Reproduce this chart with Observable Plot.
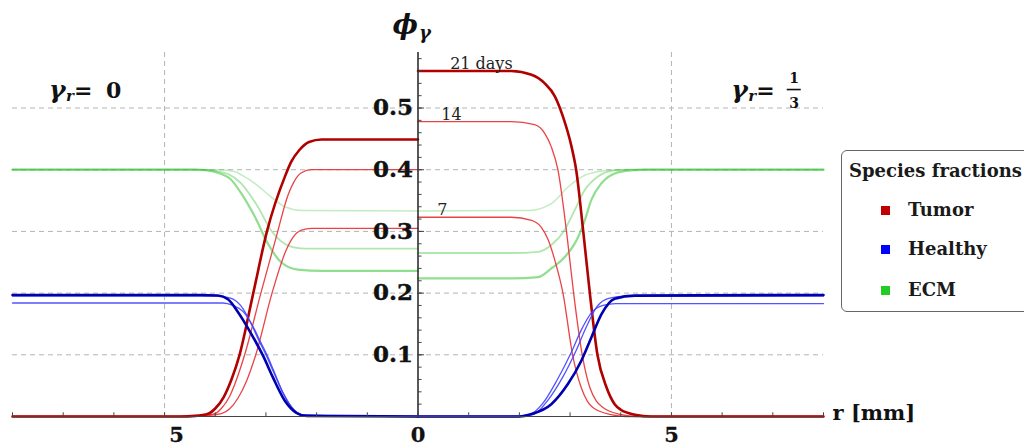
<!DOCTYPE html>
<html><head><meta charset="utf-8">
<script src="https://cdn.jsdelivr.net/npm/d3@7"></script>
<script src="https://cdn.jsdelivr.net/npm/@observablehq/plot@0.6"></script>
<style>
html,body{margin:0;padding:0;background:#fff;overflow:hidden;}
#wrap{position:relative;width:1024px;height:446px;}
#legend{position:absolute;left:841px;top:150px;width:215px;height:160px;border:1.5px solid #666;border-radius:6px;background:#fff;font-family:"DejaVu Serif",serif;font-weight:bold;color:#1a1a1a;}
#legend .t{position:absolute;left:7px;top:11px;font-size:18px;line-height:1;white-space:nowrap;}
#legend .it{position:absolute;left:66px;font-size:18px;line-height:1;white-space:nowrap;}
#legend .sw{position:absolute;left:39px;width:9px;height:9px;}
</style>
</head><body>
<div id="wrap"></div>
<script>
// ---- data: radius r [mm] and volume fraction phi ----
// left panel: gamma_r = 0  (drawn mirrored at negative x)
const tumorL21 = [[0,0.449],[1.9,0.449],[2.15,0.445],[2.34,0.432],[2.5,0.413],[2.62,0.39],[2.98,0.30],[3.25,0.20],[3.52,0.10],[3.68,0.06],[3.83,0.032],[4.0,0.013],[4.14,0.0045],[4.4,0.001],[4.7,0],[8,0]];
const tumorL14 = [[0,0.40],[2.1,0.40],[2.3,0.395],[2.45,0.38],[2.56,0.36],[2.8,0.29],[3.1,0.20],[3.42,0.10],[3.58,0.06],[3.72,0.032],[3.88,0.013],[4.01,0.0045],[4.3,0.001],[4.6,0],[8,0]];
const tumorL7  = [[0,0.305],[2.1,0.305],[2.3,0.302],[2.47,0.29],[2.6,0.27],[2.88,0.20],[3.2,0.10],[3.38,0.058],[3.55,0.03],[3.72,0.012],[3.88,0.0045],[4.2,0.001],[4.5,0],[8,0]];
const healthyL21 = [[0,0],[2.2,0.001],[2.4,0.006],[2.63,0.026],[2.86,0.063],[3.06,0.099],[3.29,0.134],[3.55,0.169],[3.75,0.19],[3.95,0.196],[4.3,0.197],[8,0.197]];
const healthyL14 = [[0,0],[2.25,0.002],[2.45,0.011],[2.65,0.036],[2.85,0.072],[3.0,0.10],[3.15,0.125],[3.3,0.152],[3.5,0.18],[3.7,0.192],[3.95,0.195],[8,0.195]];
const healthyL7  = [[0,0],[2.25,0.002],[2.45,0.011],[2.66,0.038],[2.85,0.075],[2.98,0.10],[3.1,0.12],[3.25,0.145],[3.45,0.17],[3.65,0.18],[3.85,0.184],[8,0.184]];
const ecmL21 = [[0,0.236],[1.9,0.236],[2.37,0.238],[2.7,0.25],[2.96,0.28],[3.22,0.324],[3.49,0.362],[3.7,0.385],[3.88,0.393],[4.15,0.399],[4.4,0.40],[8,0.40]];
const ecmL14 = [[0,0.272],[2.2,0.272],[2.45,0.274],[2.63,0.28],[2.9,0.302],[3.16,0.34],[3.49,0.378],[3.75,0.393],[4.1,0.399],[4.4,0.40],[8,0.40]];
const ecmL7  = [[0,0.333],[2.3,0.334],[2.63,0.34],[2.9,0.356],[3.22,0.378],[3.45,0.39],[3.62,0.397],[3.9,0.40],[8,0.40]];
// right panel: gamma_r = 1/3
const tumorR21 = [[0,0.56],[1.84,0.56],[2.24,0.554],[2.5,0.54],[2.7,0.519],[2.86,0.486],[3.03,0.437],[3.12,0.40],[3.26,0.30],[3.39,0.20],[3.54,0.10],[3.72,0.047],[3.88,0.02],[4.0,0.011],[4.28,0.003],[4.6,0],[8,0]];
const tumorR14 = [[0,0.478],[1.84,0.478],[2.3,0.473],[2.5,0.459],[2.63,0.437],[2.76,0.40],[2.93,0.30],[3.07,0.20],[3.24,0.10],[3.39,0.047],[3.52,0.025],[3.65,0.0146],[4.01,0.003],[4.3,0],[8,0]];
const tumorR7  = [[0,0.323],[1.84,0.323],[2.24,0.318],[2.43,0.307],[2.57,0.286],[2.70,0.253],[2.86,0.20],[3.05,0.10],[3.22,0.047],[3.34,0.025],[3.45,0.0146],[3.81,0.003],[4.1,0],[8,0]];
const healthyR21 = [[0,0],[2.0,0],[2.24,0.004],[2.63,0.02],[2.96,0.053],[3.22,0.09],[3.42,0.128],[3.62,0.166],[3.88,0.191],[4.28,0.196],[8,0.197]];
const healthyR14 = [[0,0],[2.0,0],[2.3,0.004],[2.55,0.025],[2.85,0.063],[3.12,0.107],[3.32,0.145],[3.52,0.177],[3.78,0.192],[4.1,0.195],[8,0.195]];
const healthyR7  = [[0,0],[1.9,0],[2.2,0.003],[2.45,0.02],[2.75,0.06],[3.03,0.105],[3.22,0.14],[3.42,0.168],[3.65,0.18],[3.9,0.183],[8,0.183]];
const ecmR21 = [[0,0.224],[1.84,0.224],[2.37,0.226],[2.63,0.24],[2.89,0.258],[3.16,0.291],[3.29,0.318],[3.42,0.351],[3.62,0.378],[3.88,0.394],[4.2,0.399],[4.5,0.40],[8,0.40]];
const ecmR14 = [[0,0.265],[1.84,0.265],[2.37,0.267],[2.63,0.278],[2.89,0.302],[3.09,0.334],[3.29,0.367],[3.55,0.389],[3.88,0.399],[4.2,0.40],[8,0.40]];
const ecmR7  = [[0,0.333],[2.2,0.334],[2.63,0.345],[2.96,0.372],[3.29,0.391],[3.68,0.3985],[4.0,0.40],[8,0.40]];

const species = ["Tumor", "Healthy", "ECM"];
const days = [7, 14, 21];
const xTickLabels = [-5, 0, 5];
const yTickLabels = [0.1, 0.2, 0.3, 0.4, 0.5];
const dayLabelText = ["7", "14", "21 days"];
const dayLabelR = [0.48, 0.66, 1.25];
const dayLabelPhi = [0.323, 0.478, 0.56];

// ---- layout & styles ----
const W = 1024, H = 446, ML = 12, MR = 201, MT = 52, MB = 30;
const XDOM = [-8, 8];
const pxPerMm = (W - ML - MR) / (XDOM[1] - XDOM[0]);
const FONT = "DejaVu Serif";
const style = {
  Tumor:   {21: ["#b00000", 2.6, 1], 14: ["#e8393c", 1.3, 0.95], 7: ["#e8393c", 1.3, 0.95]},
  Healthy: {21: ["#0000b0", 2.6, 1], 14: ["#4040ff", 1.3, 0.9], 7: ["#4040ff", 1.3, 0.9]},
  ECM:     {21: ["#36c236", 2.2, 0.55], 14: ["#36c236", 1.8, 0.4], 7: ["#36c236", 1.5, 0.3]}
};

const curves = [
  ["left","Tumor",21,tumorL21],["left","Tumor",14,tumorL14],["left","Tumor",7,tumorL7],
  ["left","Healthy",21,healthyL21],["left","Healthy",14,healthyL14],["left","Healthy",7,healthyL7],
  ["left","ECM",21,ecmL21],["left","ECM",14,ecmL14],["left","ECM",7,ecmL7],
  ["right","Tumor",21,tumorR21],["right","Tumor",14,tumorR14],["right","Tumor",7,tumorR7],
  ["right","Healthy",21,healthyR21],["right","Healthy",14,healthyR14],["right","Healthy",7,healthyR7],
  ["right","ECM",21,ecmR21],["right","ECM",14,ecmR14],["right","ECM",7,ecmR7]
];
const rows = curves.flatMap(([side, sp, day, pts]) =>
  pts.map(([r, v]) => ({side, species: sp, day, x: side === "left" ? -r : r, v}))
     .sort((a, b) => a.x - b.x));

const lineMarks = [];
for (const sp of ["ECM", "Tumor", "Healthy"]) {
  for (const day of [7, 14, 21]) {
    const [stroke, w, op] = style[sp][day];
    lineMarks.push(Plot.line(rows.filter(d => d.species === sp && d.day === day), {
      x: "x", y: "v", z: "side", stroke, strokeWidth: w, strokeOpacity: op,
      curve: "monotone-x"
    }));
  }
}

const grid = {stroke: "#b4b4b4", strokeDasharray: "5,4", strokeWidth: 1};
const yMinor = d3.range(0, 30).map(i => i / 50);
const xMinor = d3.range(-8, 9);
const bold = {fontFamily: FONT, fontWeight: "bold", fill: "#111"};

// gamma_r annotations (data-coordinate anchors)
const gLeft = {x: -7.28, y: 0.517};
const gRight = {x: 6.18, y: 0.517};
const fracBar = [{y: gRight.y, x1: gRight.x + 56 / pxPerMm, x2: gRight.x + 70 / pxPerMm}];
function gammaLabel(anchor, rhs) {
  const base = {x: () => anchor.x, y: () => anchor.y, textAnchor: "start", lineAnchor: "bottom", fill: "#111", fontFamily: FONT, fontWeight: "bold"};
  const m = [
    Plot.text(["γ"], {...base, text: d => d, fontSize: 25, fontStyle: "italic"}),
    Plot.text(["r"], {...base, text: d => d, fontSize: 15, fontStyle: "italic", dx: 17, dy: 3}),
    Plot.text(["="], {...base, text: d => d, fontSize: 22, dx: 25})
  ];
  return m.concat(rhs(base));
}

const plot = Plot.plot({
  width: W, height: H,
  marginLeft: ML, marginRight: MR, marginTop: MT, marginBottom: MB,
  x: {domain: XDOM, axis: null},
  y: {domain: [0, 0.59], axis: null},
  style: {fontFamily: FONT, background: "#fff"},
  marks: [
    Plot.ruleY(yTickLabels, grid),
    Plot.ruleX(xTickLabels.filter(d => d !== 0), grid),
    ...lineMarks,
    Plot.ruleY([0], {stroke: "#444", strokeWidth: 1.2}),
    Plot.ruleX([0], {stroke: "#222", strokeWidth: 1.5}),
    Plot.ruleX(xMinor, {x: d => d, y1: 0, y2: 0.006, stroke: "#444"}),
    Plot.ruleY(yMinor, {y: d => d, x1: 0, x2: 0.08, stroke: "#444"}),
    Plot.ruleY(yTickLabels, {y: d => d, x1: 0, x2: 0.13, stroke: "#444"}),
    Plot.text(yTickLabels, {x: 0, y: d => d, text: d => d.toFixed(1), textAnchor: "end", dx: -5, fontSize: 23, ...bold, stroke: "#111", strokeWidth: 0.4}),
    Plot.text(xTickLabels.filter(d => d < 0), {x: d => d, y: 0, text: d => String(Math.abs(d)), dx: 12, dy: 19, fontSize: 21, ...bold, stroke: "#111", strokeWidth: 0.3}),
    Plot.text(xTickLabels.filter(d => d >= 0), {x: d => d, y: 0, text: d => String(Math.abs(d)), dy: 19, fontSize: 21, ...bold, stroke: "#111", strokeWidth: 0.3}),
    Plot.text(["r [mm]"], {x: 8, y: 0, text: d => d, textAnchor: "start", dx: 9, dy: -3, fontSize: 21, ...bold}),
    Plot.text(["ϕ"], {x: 0, y: 0.59, text: d => d, textAnchor: "end", lineAnchor: "bottom", dx: 0, dy: -19, fontSize: 27, fontStyle: "italic", ...bold}),
    Plot.text(["γ"], {x: 0, y: 0.59, text: d => d, textAnchor: "start", lineAnchor: "bottom", dx: 1, dy: -14, fontSize: 18, fontStyle: "italic", ...bold}),
    Plot.text(d3.range(3), {x: i => dayLabelR[i], y: i => dayLabelPhi[i], text: i => dayLabelText[i], lineAnchor: "bottom", dy: -2, fontSize: 16, fontFamily: FONT, fill: "#222"}),
    ...gammaLabel(gLeft, base => [Plot.text(["0"], {...base, text: d => d, fontSize: 22, dx: 57})]),
    ...gammaLabel(gRight, base => [
      Plot.text(["1"], {...base, text: d => d, fontSize: 14, dx: 58, dy: -15}),
      Plot.text(["3"], {...base, text: d => d, fontSize: 14, dx: 58, dy: 10})
    ]),
    Plot.ruleY(fracBar, {y: "y", x1: "x1", x2: "x2", dy: -8, stroke: "#111", strokeWidth: 1.6})
  ]
});

const wrap = document.getElementById("wrap");
wrap.appendChild(plot);

// legend
const legendColors = ["#c00000", "#0000ff", "#22cc22"];
const lg = document.createElement("div");
lg.id = "legend";
let html = `<div class="t">Species fractions</div>`;
const tops = [50, 89, 130];
species.forEach((s, i) => {
  html += `<div class="sw" style="top:${tops[i] + 5}px;background:${legendColors[i]}"></div>`;
  html += `<div class="it" style="top:${tops[i]}px">${s}</div>`;
});
lg.innerHTML = html;
wrap.appendChild(lg);
</script>
</body></html>
